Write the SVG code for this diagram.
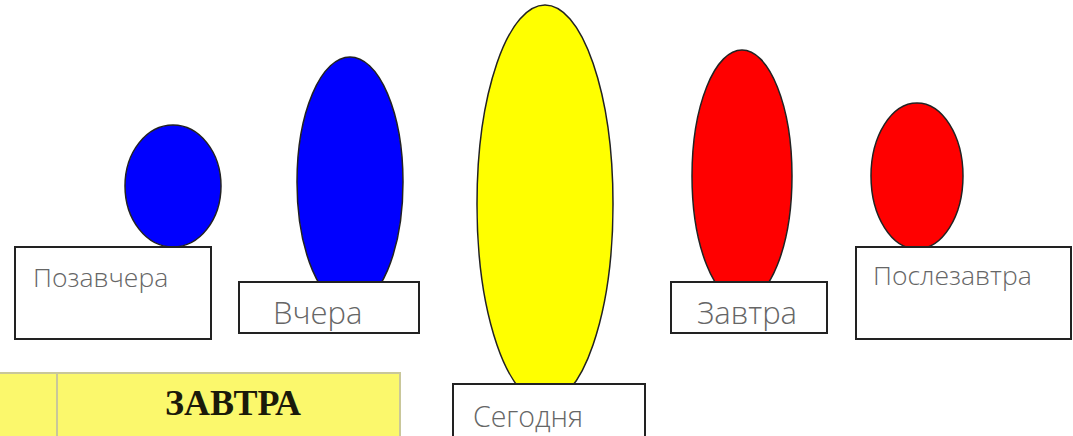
<svg xmlns="http://www.w3.org/2000/svg" width="1073" height="436" viewBox="0 0 1073 436">
<style>
.egg{stroke:#222;stroke-width:1.5}
.blue{fill:#0000ff}
.red{fill:#ff0000}
.yel{fill:#ffff00}
.box{fill:#fff;stroke:#222;stroke-width:2}
.lbl{font-family:"Open Sans","Liberation Sans",sans-serif;font-weight:300;fill:#666}
.tbl{fill:#fbf86c;stroke:#c9c79a;stroke-width:2}
.head{font-family:"Liberation Serif",serif;font-weight:bold;font-size:36px;fill:#1a1a0a}
</style>
<rect width="1073" height="436" fill="#fff"/>
<g id="table">
<rect class="tbl" x="-2" y="373" width="402" height="70"/>
<line x1="57" y1="373" x2="57" y2="436" stroke="#c9c79a" stroke-width="2"/>
<text class="head" x="233" y="415" text-anchor="middle">ЗАВТРА</text>
</g>
<g id="pozavchera">
<ellipse class="egg blue" cx="173" cy="186" rx="48" ry="61"/>
<rect class="box" x="15" y="247" width="196" height="92"/>
<text class="lbl" x="33" y="287" font-size="26.5">Позавчера</text>
</g>
<g id="vchera">
<ellipse class="egg blue" cx="350" cy="182" rx="53" ry="125"/>
<rect class="box" x="239" y="282" width="180" height="51"/>
<text class="lbl" x="273" y="324" font-size="31">Вчера</text>
</g>
<g id="segodnya">
<ellipse class="egg yel" cx="545" cy="204" rx="68" ry="199"/>
<rect class="box" x="453" y="384" width="192" height="70"/>
<text class="lbl" x="473" y="427" font-size="28.5">Сегодня</text>
</g>
<g id="zavtra">
<ellipse class="egg red" cx="742" cy="176" rx="50" ry="126"/>
<rect class="box" x="671" y="282" width="156" height="51"/>
<text class="lbl" x="697" y="324" font-size="31">Завтра</text>
</g>
<g id="poslezavtra">
<ellipse class="egg red" cx="917" cy="176" rx="46" ry="73"/>
<rect class="box" x="856" y="247" width="215" height="92"/>
<text class="lbl" x="873" y="285" font-size="26.5">Послезавтра</text>
</g>
<g id="connectors"/>
</svg>
